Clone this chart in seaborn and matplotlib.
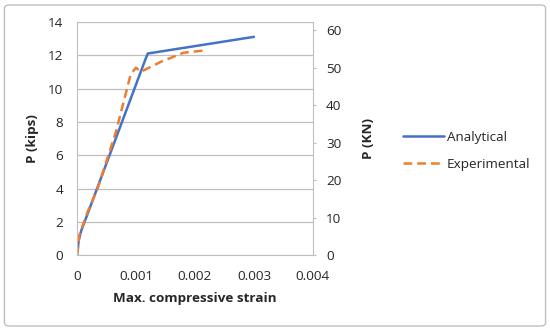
import pandas as pd
import matplotlib.pyplot as plt
import matplotlib.patches as mpatches
import seaborn as sns

# strain vs load
ana_strain = [0.0, 0.00003, 0.00007, 0.00015, 0.00116, 0.0012, 0.003]
ana_load = [0.0, 0.9, 1.45, 2.2, 11.75, 12.1, 13.1]

exp_strain = [0.0, 0.00002, 0.00004, 0.00018, 0.00035, 0.00066, 0.00091,
              0.001, 0.00108, 0.00142, 0.00181, 0.0022]
exp_load = [0.0, 0.5, 1.2, 2.6, 4.0, 7.4, 10.85, 11.25, 11.0, 11.6, 12.15, 12.3]

x_ticks = [0, 0.001, 0.002, 0.003, 0.004]
x_labels = ['0', '0.001', '0.002', '0.003', '0.004']
kips_ticks = list(range(0, 15, 2))
kn_ticks = list(range(0, 61, 10))
KIP_TO_KN = 4.448

df = pd.concat([
    pd.DataFrame({'strain': ana_strain, 'P': ana_load, 'series': 'Analytical'}),
    pd.DataFrame({'strain': exp_strain, 'P': exp_load, 'series': 'Experimental'}),
])

sns.set_style('white')
plt.rcParams['font.family'] = ['Open Sans', 'DejaVu Sans']
fs = 9.7

fig = plt.figure(figsize=(5.5, 3.31), dpi=100)
ax = fig.add_axes([0.14, 0.229, 0.429, 0.705])

grid_c = '#bfbfbf'
for y in kips_ticks:
    ax.axhline(y, color=grid_c, lw=0.9, zorder=0)

sns.lineplot(data=df, x='strain', y='P', hue='series', style='series',
             palette={'Analytical': '#4472c4', 'Experimental': '#ed7d31'},
             dashes={'Analytical': '', 'Experimental': (3.5, 2)},
             sort=False, estimator=None, lw=1.8, ax=ax)

ax.set_xlim(0, 0.004)
ax.set_ylim(0, 14)
ax.set_xticks(x_ticks)
ax.set_xticklabels(x_labels)
ax.set_yticks(kips_ticks)
ax.tick_params(axis='x', length=0, labelsize=fs, pad=11)
ax.tick_params(axis='y', length=0, labelsize=fs, pad=10)
ax.set_xlabel('Max. compressive strain', fontsize=fs, fontweight='bold', labelpad=6)
ax.set_ylabel('P (kips)', fontsize=fs, fontweight='bold', labelpad=6)
for s in ['left', 'bottom']:
    ax.spines[s].set_color(grid_c)
ax.spines['top'].set_visible(False)
ax.spines['right'].set_visible(False)

ax2 = ax.twinx()
ax2.set_ylim(0, 14 * KIP_TO_KN)
ax2.set_yticks(kn_ticks)
ax2.tick_params(axis='y', length=2.5, color=grid_c, labelsize=fs, pad=7)
ax2.set_ylabel('P (KN)', fontsize=fs, fontweight='bold', labelpad=15)
for s in ['left', 'bottom', 'top']:
    ax2.spines[s].set_visible(False)
ax2.spines['right'].set_color(grid_c)

handles, labels = ax.get_legend_handles_labels()
ax.legend_.remove()
fig.legend(handles, labels, loc='center left', bbox_to_anchor=(0.733, 0.544),
           frameon=False, fontsize=fs, handlelength=3.0, handletextpad=0.25,
           labelspacing=1.05, borderpad=0, borderaxespad=0)

fig.patches.append(mpatches.FancyBboxPatch(
    (0.008, 0.015), 0.984, 0.97, boxstyle='round,pad=0,rounding_size=0.01',
    transform=fig.transFigure, fill=False, edgecolor='#bfbfbf', lw=1))

fig.savefig('out.png', dpi=100)
